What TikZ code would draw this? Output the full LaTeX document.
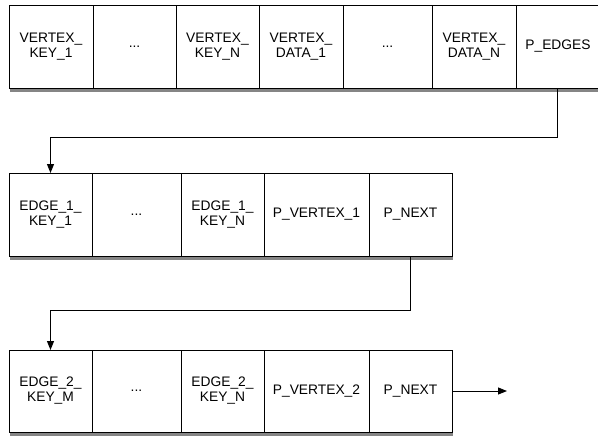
\documentclass[tikz,border=0pt]{standalone}
\usepackage{fontspec}
\setmainfont{Liberation Sans}
\usepackage{xcolor}
\usepackage{tikz}
\usetikzlibrary{arrows.meta, shadows}

\tikzset{
    cell/.style={draw, line width=1pt, fill=white, rectangle, inner sep=0pt, outer sep=0pt,
        align=center, font=\fontsize{13.8}{15}\selectfont,
        drop shadow={shadow xshift=0.5pt, shadow yshift=-3.5pt, fill=black!80, opacity=.6}},
    link/.style={line width=0.9pt, -{Triangle[length=9pt, width=7pt]}}
}

\begin{document}
\begin{tikzpicture}[x=1pt, y=-1pt]
    \useasboundingbox (0,0) rectangle (598,437);
    % vertex record
    \node[cell, minimum width=84, minimum height=83] (vkey1) at (51,46.5) {VERTEX\_\\KEY\_1};
    \node[cell, minimum width=83, minimum height=83] (vdots1) at (134.5,46.5) {...};
    \node[cell, minimum width=83, minimum height=83] (vkeyn) at (217.5,46.5) {VERTEX\_\\KEY\_N};
    \node[cell, minimum width=84, minimum height=83] (vdata1) at (301,46.5) {VERTEX\_\\DATA\_1};
    \node[cell, minimum width=89, minimum height=83] (vdots2) at (387.5,46.5) {...};
    \node[cell, minimum width=84, minimum height=83] (vdatan) at (474,46.5) {VERTEX\_\\DATA\_N};
    \node[cell, minimum width=84, minimum height=83] (pedges) at (558,46.5) {P\_EDGES};
    % first edge record
    \node[cell, minimum width=83, minimum height=83] (ekey11) at (50.5,214.5) {EDGE\_1\_\\KEY\_1};
    \node[cell, minimum width=89, minimum height=83] (edots1) at (136.5,214.5) {...};
    \node[cell, minimum width=83, minimum height=83] (ekey1n) at (222.5,214.5) {EDGE\_1\_\\KEY\_N};
    \node[cell, minimum width=105, minimum height=83] (pvert1) at (316.5,214.5) {P\_VERTEX\_1};
    \node[cell, minimum width=83, minimum height=83] (pnext1) at (410.5,214.5) {P\_NEXT};
    % second edge record
    \node[cell, minimum width=83, minimum height=82] (ekey2m) at (50.5,391) {EDGE\_2\_\\KEY\_M};
    \node[cell, minimum width=89, minimum height=82] (edots2) at (136.5,391) {...};
    \node[cell, minimum width=83, minimum height=82] (ekey2n) at (222.5,391) {EDGE\_2\_\\KEY\_N};
    \node[cell, minimum width=105, minimum height=82] (pvert2) at (316.5,391) {P\_VERTEX\_2};
    \node[cell, minimum width=83, minimum height=82] (pnext2) at (410.5,391) {P\_NEXT};
    \coordinate (nextend) at (507,391);
    % pointers
    \draw[link] (pedges.south -| 557,0) -- ++(0,49) -| (ekey11.north);
    \draw[link] (pnext1.south) -- ++(0,54) -| (ekey2m.north);
    \draw[link] (pnext2.east) -- (nextend);
\end{tikzpicture}
\end{document}
